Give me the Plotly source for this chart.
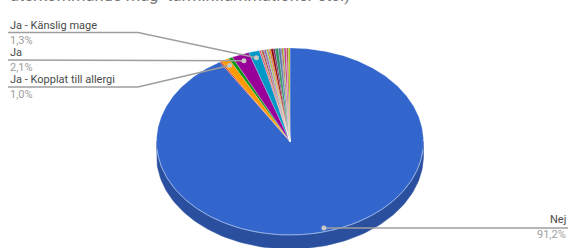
import numpy as np
import plotly.graph_objects as go

# ---- data ----
categories = ["Nej", "Ja - Annat", "Ja - Kopplat till allergi", "Ja - Glutenintolerans",
              "Ja", "Ja - Känslig mage"] + [f"Övrigt svar {i}" for i in range(1, 21)]
values = [91.2, 0.2, 1.0, 0.5, 2.1, 1.3,
          0.2, 0.1, 0.2, 0.1, 0.2, 0.1, 0.2, 0.1, 0.2, 0.3,
          0.2, 0.4, 0.3, 0.1, 0.2, 0.1, 0.2, 0.1, 0.2, 0.2]
colors = ["#3366cc", "#dc3912", "#ff9900", "#109618", "#990099", "#0099c6",
          "#dd4477", "#66aa00", "#b82e2e", "#316395", "#994499", "#22aa99",
          "#aaaa11", "#6633cc", "#e67300", "#8b0707", "#651067", "#329262",
          "#5574a6", "#3b3eac", "#b77322", "#16d620", "#b91383", "#f4359e",
          "#9c5935", "#a9c413"]
side_colors = {"#3366cc": "#2a4f9f"}
title_text = "återkommande mag- tarminflammationer etc.)"
labelled = ["Ja - Känslig mage", "Ja", "Ja - Kopplat till allergi", "Nej"]

# ---- geometry (pixel-like data coordinates) ----
W, H = 574, 248
cx, cy, a, b, depth = 290, 141.5, 133.5, 93.5, 14
total = float(sum(values))
fr = np.array(values) / total
ends = np.cumsum(fr) * 360.0
starts = ends - fr * 360.0


def pt(theta_deg, r=1.0, dy=0.0):
    t = np.radians(theta_deg)
    return cx + a * r * np.sin(t), cy - b * r * np.cos(t) + dy


fig = go.Figure()

# sides (front half only)
for s, e, c in zip(starts, ends, colors):
    lo, hi = max(s, 90), min(e, 270)
    if hi <= lo:
        continue
    th = np.linspace(lo, hi, 120)
    xt, yt = pt(th)
    xb, yb = pt(th[::-1], dy=depth)
    fig.add_trace(go.Scatter(x=np.r_[xt, xb, xt[0]], y=np.r_[yt, yb, yt[0]],
                             fill="toself", mode="lines", fillcolor=side_colors.get(c, c),
                             line=dict(color=side_colors.get(c, c), width=0.5),
                             hoverinfo="skip", showlegend=False))

# top faces
for name, s, e, c, f in zip(categories, starts, ends, colors, fr):
    n = max(3, int((e - s) * 2))
    th = np.linspace(s, e, n)
    x, y = pt(th)
    fig.add_trace(go.Scatter(x=np.r_[cx, x, cx], y=np.r_[cy, y, cy], fill="toself",
                             mode="lines", fillcolor=c,
                             line=dict(color="rgba(255,255,255,0.45)", width=0.5),
                             name=name, text=f"{name}: {f*100:.1f}%".replace(".", ","),
                             hoverinfo="text", showlegend=False))

# light rim on front edge
th = np.linspace(95, 265, 200)
xr, yr = pt(th)
fig.add_trace(go.Scatter(x=xr, y=yr, mode="lines", line=dict(color="rgba(160,185,235,0.7)", width=1),
                         hoverinfo="skip", showlegend=False))

# labels and leader lines
label_layout = {
    "Ja - Känslig mage": dict(side="left", ty=25, ly=32.5, bend=138),
    "Ja": dict(side="left", ty=52, ly=60, bend=None),
    "Ja - Kopplat till allergi": dict(side="left", ty=79, ly=87, bend=138),
    "Nej": dict(side="right", ty=219, ly=228, bend=None),
}
name_col, pct_col, line_col = "#4a4a4a", "#9e9e9e", "#9e9e9e"
font = "Roboto, Arial, sans-serif"
for name in labelled:
    i = categories.index(name)
    mid = (starts[i] + ends[i]) / 2
    dx, dyy = pt(mid, r=0.93)
    L = label_layout[name]
    pct = f"{fr[i]*100:.1f}%".replace(".", ",")
    if L["side"] == "left":
        xs = [8] + ([L["bend"]] if L["bend"] else []) + [dx]
        ys = [L["ly"]] + ([L["ly"]] if L["bend"] else []) + [dyy]
        tx, anchor = 9, "left"
    else:
        xs = [dx, 568]
        ys = [L["ly"], L["ly"]]
        tx, anchor = 567, "right"
    fig.add_trace(go.Scatter(x=xs, y=ys, mode="lines", line=dict(color=line_col, width=1.5),
                             hoverinfo="skip", showlegend=False))
    fig.add_trace(go.Scatter(x=[dx], y=[dyy if L["side"] == "left" else L["ly"]], mode="markers",
                             marker=dict(size=5, color="#c8c8c8", line=dict(width=0)),
                             hoverinfo="skip", showlegend=False))
    fig.add_annotation(x=tx, y=L["ty"], xref="x", yref="y", text=name, showarrow=False,
                       xanchor=anchor, yanchor="middle", borderpad=0,
                       font=dict(family=font, size=11, color=name_col))
    fig.add_annotation(x=tx, y=L["ty"] + 15.5, xref="x", yref="y", text=pct, showarrow=False,
                       xanchor=anchor, yanchor="middle", borderpad=0,
                       font=dict(family=font, size=11, color=pct_col))

# title (partially cut off at top like the reference)
fig.add_annotation(x=9 / W, y=1 + 4.5 / H, xref="paper", yref="paper", text=title_text,
                   showarrow=False, xanchor="left", yanchor="middle", borderpad=0,
                   font=dict(family=font, size=16.5, color="#757575"))

fig.update_layout(width=W, height=H, margin=dict(l=0, r=0, t=0, b=0),
                  paper_bgcolor="white", plot_bgcolor="white",
                  xaxis=dict(range=[0, W], visible=False, fixedrange=True),
                  yaxis=dict(range=[H, 0], visible=False, fixedrange=True))
fig.write_html("out.html", config={"displayModeBar": False},
               post_script="document.body.style.margin='0';document.body.style.overflow='hidden';")
